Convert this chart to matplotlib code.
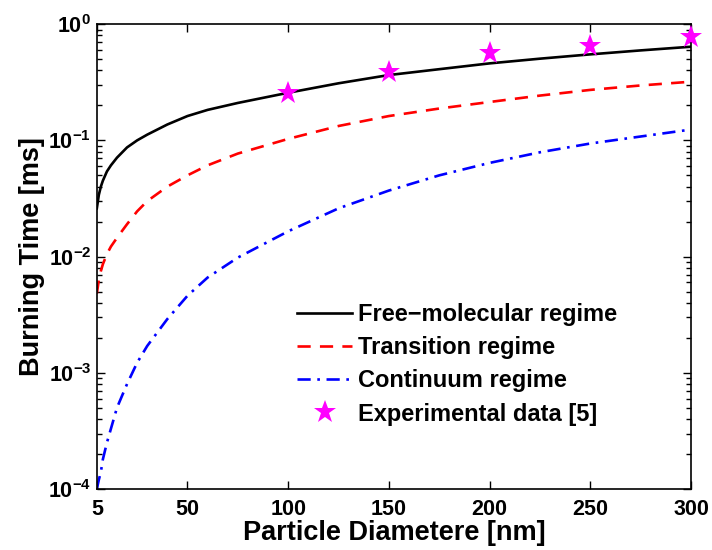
import math
import matplotlib
matplotlib.use("Agg")
import matplotlib.pyplot as plt
from matplotlib.ticker import FixedLocator, FuncFormatter, LogLocator, NullFormatter

plt.rcParams['font.family'] = ['Liberation Sans', 'DejaVu Sans']
plt.rcParams['font.weight'] = 'bold'
plt.rcParams['mathtext.fontset'] = 'custom'
plt.rcParams['mathtext.rm'] = 'Liberation Sans:bold'
plt.rcParams['mathtext.bf'] = 'Liberation Sans:bold'
plt.rcParams['mathtext.default'] = 'bf'

# Data
diameter = [5, 6, 7, 8, 10, 12, 15, 20, 25, 30, 40, 50, 60, 75, 100, 125, 150, 175, 200, 225, 250, 275, 300]
free_molecular = [0.026, 0.034, 0.040, 0.045, 0.054, 0.061, 0.071, 0.087, 0.100, 0.112, 0.137, 0.162, 0.183,
                  0.21, 0.257, 0.31, 0.365, 0.41, 0.46, 0.505, 0.55, 0.595, 0.64]
transition = [0.0048, 0.0063, 0.0075, 0.0086, 0.0105, 0.0122, 0.0145, 0.019, 0.0245, 0.03, 0.04, 0.05, 0.061,
              0.077, 0.103, 0.133, 0.162, 0.188, 0.214, 0.243, 0.272, 0.297, 0.32]
continuum = [0.0001, 0.00012, 0.00014, 0.00018, 0.00025, 0.00033, 0.0005, 0.0008, 0.00122, 0.0017, 0.0029,
             0.0046, 0.0066, 0.0098, 0.0165, 0.026, 0.037, 0.05, 0.064, 0.079, 0.094, 0.108, 0.124]
exp_diameter = [100, 150, 200, 250, 300]
exp_time = [0.254, 0.39, 0.56, 0.65, 0.78]
x_ticks = [5, 50, 100, 150, 200, 250, 300]

fig = plt.figure(figsize=(7.12, 5.5), dpi=100)
ax = fig.add_axes([0.136, 0.111, 0.8345, 0.845])

ax.plot(diameter, free_molecular, color='black', lw=1.9, ls='-', label='Free\u2212molecular regime')
ax.plot(diameter, transition, color='#ff0000', lw=1.9, ls=(0, (5, 3.5)), label='Transition regime')
ax.plot(diameter, continuum, color='#0000ff', lw=1.9, ls=(0, (5, 2.5, 1, 2.5)), label='Continuum regime')
ax.plot(exp_diameter, exp_time, ls='none', marker='*', color='#ff00ff', markersize=17,
        markeredgewidth=0, label='Experimental data [5]', clip_on=False, zorder=5)

ax.set_yscale('log')
ax.set_xlim(5, 300)
ax.set_ylim(1e-4, 1)
ax.xaxis.set_major_locator(FixedLocator(x_ticks))
ax.yaxis.set_major_locator(LogLocator(base=10, numticks=10))
ax.yaxis.set_minor_locator(LogLocator(base=10, subs=range(2, 10), numticks=10))
ax.yaxis.set_minor_formatter(NullFormatter())
ax.yaxis.set_major_formatter(FuncFormatter(lambda v, p: r'$\mathbf{10^{%d}}$' % round(math.log10(v))))

ax.tick_params(which='both', direction='in', top=True, right=True, labelsize=15.5, width=1)
ax.tick_params(which='major', length=6)
ax.tick_params(which='minor', length=3.5)
ax.tick_params(axis='x', pad=7)
ax.tick_params(axis='y', pad=4)
for s in ax.spines.values():
    s.set_linewidth(1.2)

ax.set_xlabel('Particle Diametere [nm]', fontsize=19.5, fontweight='bold', labelpad=0)
ax.set_ylabel('Burning Time [ms]', fontsize=19.5, fontweight='bold', labelpad=2)

leg = ax.legend(loc='upper left', bbox_to_anchor=(0.337, 0.40), frameon=False, fontsize=17,
                handlelength=2.33, handletextpad=0.25, labelspacing=0.43, borderpad=0,
                borderaxespad=0)

fig.savefig('out.png', dpi=100)
